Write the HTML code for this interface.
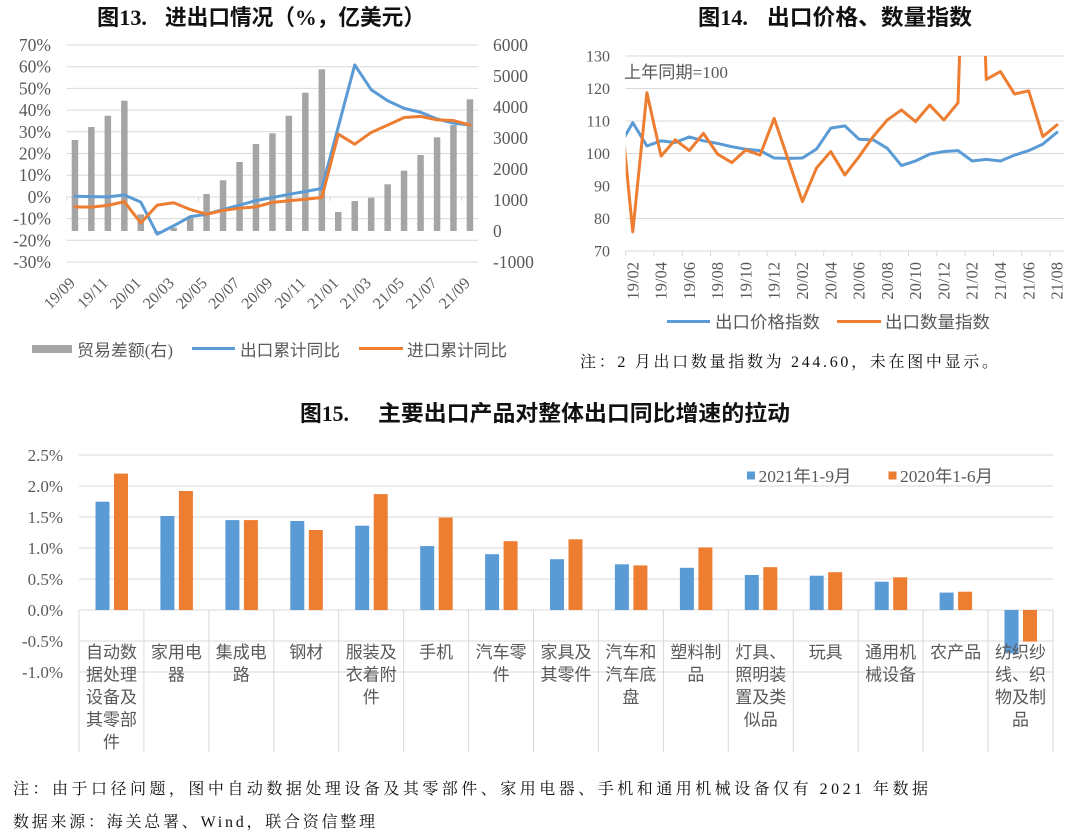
<!DOCTYPE html>
<html><head><meta charset="utf-8"><style>
html,body{margin:0;padding:0;background:#fff;}
svg{display:block;}
</style></head><body>
<svg width="1080" height="838" viewBox="0 0 1080 838" xmlns="http://www.w3.org/2000/svg">
<rect width="1080" height="838" fill="#fff"/>
<defs>
<clipPath id="c14"><rect x="625.7" y="56" width="438.6" height="200"/></clipPath>
</defs>

<!-- ============ Chart 13 ============ -->
<g font-family="'Liberation Serif','Noto Sans CJK SC',sans-serif" font-weight="bold" fill="#111" font-size="22">
<text x="97" y="25" textLength="50" lengthAdjust="spacingAndGlyphs">图13.</text>
<text x="165" y="25" textLength="260" lengthAdjust="spacingAndGlyphs">进出口情况（%，亿美元）</text>
</g>
<g stroke="#d9d9d9" stroke-width="1">
<line x1="66.7" x2="478.3" y1="45" y2="45"/>
<line x1="66.7" x2="478.3" y1="66.7" y2="66.7"/>
<line x1="66.7" x2="478.3" y1="88.4" y2="88.4"/>
<line x1="66.7" x2="478.3" y1="110.1" y2="110.1"/>
<line x1="66.7" x2="478.3" y1="131.8" y2="131.8"/>
<line x1="66.7" x2="478.3" y1="153.5" y2="153.5"/>
<line x1="66.7" x2="478.3" y1="175.2" y2="175.2"/>
<line x1="66.7" x2="478.3" y1="196.9" y2="196.9"/>
<line x1="66.7" x2="478.3" y1="218.6" y2="218.6"/>
<line x1="66.7" x2="478.3" y1="240.3" y2="240.3"/>
<line x1="66.7" x2="478.3" y1="262" y2="262"/>
<line x1="66.7" x2="66.7" y1="197" y2="201"/>
<line x1="198.4" x2="198.4" y1="197" y2="201"/>
<line x1="330.1" x2="330.1" y1="197" y2="201"/>
<line x1="461.8" x2="461.8" y1="197" y2="201"/>
</g>
<g fill="#a5a5a5">
<rect x="71.7" y="140.0" width="6.5" height="91.0"/>
<rect x="88.1" y="127.0" width="6.5" height="104.0"/>
<rect x="104.6" y="115.7" width="6.5" height="115.3"/>
<rect x="121.1" y="100.7" width="6.5" height="130.3"/>
<rect x="137.5" y="214.4" width="6.5" height="16.6"/>
<rect x="154.0" y="231" width="6.5" height="2.2"/>
<rect x="170.4" y="227.7" width="6.5" height="3.3"/>
<rect x="186.9" y="216.7" width="6.5" height="14.3"/>
<rect x="203.3" y="194.0" width="6.5" height="37.0"/>
<rect x="219.8" y="180.3" width="6.5" height="50.7"/>
<rect x="236.3" y="162.0" width="6.5" height="69.0"/>
<rect x="252.7" y="144.0" width="6.5" height="87.0"/>
<rect x="269.2" y="133.3" width="6.5" height="97.7"/>
<rect x="285.6" y="115.7" width="6.5" height="115.3"/>
<rect x="302.1" y="92.7" width="6.5" height="138.3"/>
<rect x="318.6" y="69.3" width="6.5" height="161.7"/>
<rect x="335.0" y="212.0" width="6.5" height="19.0"/>
<rect x="351.5" y="201.0" width="6.5" height="30.0"/>
<rect x="367.9" y="197.7" width="6.5" height="33.3"/>
<rect x="384.4" y="184.3" width="6.5" height="46.7"/>
<rect x="400.8" y="170.7" width="6.5" height="60.3"/>
<rect x="417.3" y="155.0" width="6.5" height="76.0"/>
<rect x="433.8" y="137.3" width="6.5" height="93.7"/>
<rect x="450.2" y="125.0" width="6.5" height="106.0"/>
<rect x="466.7" y="99.3" width="6.5" height="131.7"/>
</g>
<g transform="translate(74.93,196.9) scale(16.46,-2.17)" fill="none" stroke-linejoin="round" stroke-linecap="round">
<polyline vector-effect="non-scaling-stroke" stroke="#5b9bd5" stroke-width="3" points="0,0.3 1,0.1 2,0 3,0.9 4,-2.4 5,-17.2 6,-13.3 7,-9.1 8,-8 9,-5.8 10,-3.8 11,-1.7 12,-0.3 13,1.2 14,2.5 15,3.9 16,32.3 17,60.8 18,49.4 19,44.3 20,40.8 21,39 22,35.9 23,34 24,33.1"/>
<polyline vector-effect="non-scaling-stroke" stroke="#ed7d31" stroke-width="3" points="0,-4.6 1,-4.7 2,-3.9 3,-2.2 4,-12 5,-3.8 6,-2.7 7,-5.8 8,-8 9,-6.2 10,-5.2 11,-4.6 12,-2.5 13,-1.8 14,-1.1 15,-0.3 16,28.9 17,24.3 18,29.7 19,33.1 20,36.6 21,37.1 22,35.5 23,35.2 24,33.1"/>
</g>
<g font-family="'Liberation Serif',serif" font-size="17.5" fill="#595959" text-anchor="end">
<text x="51" y="51">70%</text>
<text x="51" y="72.7">60%</text>
<text x="51" y="94.4">50%</text>
<text x="51" y="116.1">40%</text>
<text x="51" y="137.8">30%</text>
<text x="51" y="159.5">20%</text>
<text x="51" y="181.2">10%</text>
<text x="51" y="202.9">0%</text>
<text x="51" y="224.6">-10%</text>
<text x="51" y="246.3">-20%</text>
<text x="51" y="268">-30%</text>
</g>
<g font-family="'Liberation Serif',serif" font-size="17.5" fill="#595959">
<text x="493" y="51">6000</text>
<text x="493" y="82">5000</text>
<text x="493" y="113">4000</text>
<text x="493" y="144">3000</text>
<text x="493" y="175">2000</text>
<text x="493" y="206">1000</text>
<text x="493" y="237">0</text>
<text x="493" y="268">-1000</text>
</g>
<g font-family="'Liberation Serif',serif" font-size="16" fill="#595959" text-anchor="end">
<text transform="translate(76,284) rotate(-45)">19/09</text>
<text transform="translate(109,284) rotate(-45)">19/11</text>
<text transform="translate(142,284) rotate(-45)">20/01</text>
<text transform="translate(175,284) rotate(-45)">20/03</text>
<text transform="translate(208,284) rotate(-45)">20/05</text>
<text transform="translate(240.5,284) rotate(-45)">20/07</text>
<text transform="translate(273.5,284) rotate(-45)">20/09</text>
<text transform="translate(306.5,284) rotate(-45)">20/11</text>
<text transform="translate(339.5,284) rotate(-45)">21/01</text>
<text transform="translate(372,284) rotate(-45)">21/03</text>
<text transform="translate(405,284) rotate(-45)">21/05</text>
<text transform="translate(438,284) rotate(-45)">21/07</text>
<text transform="translate(471,284) rotate(-45)">21/09</text>
</g>
<rect x="32" y="345" width="40" height="8" fill="#a5a5a5"/>
<line x1="192" x2="235" y1="348.5" y2="348.5" stroke="#5b9bd5" stroke-width="3"/>
<line x1="359" x2="403" y1="348.5" y2="348.5" stroke="#ed7d31" stroke-width="3"/>
<g font-family="'Liberation Serif','Noto Sans CJK SC',sans-serif" font-size="16.5" fill="#595959">
<text x="77" y="356" textLength="96" lengthAdjust="spacingAndGlyphs">贸易差额(右)</text>
<text x="240" y="356" textLength="100" lengthAdjust="spacingAndGlyphs">出口累计同比</text>
<text x="407" y="356" textLength="100" lengthAdjust="spacingAndGlyphs">进口累计同比</text>
</g>

<!-- ============ Chart 14 ============ -->
<g font-family="'Liberation Serif','Noto Sans CJK SC',sans-serif" font-weight="bold" fill="#111" font-size="22">
<text x="698" y="25" textLength="50" lengthAdjust="spacingAndGlyphs">图14.</text>
<text x="767" y="25" textLength="205" lengthAdjust="spacingAndGlyphs">出口价格、数量指数</text>
</g>
<g stroke="#d9d9d9" stroke-width="1">
<line x1="625.7" x2="1064" y1="56" y2="56"/>
<line x1="625.7" x2="1064" y1="88.5" y2="88.5"/>
<line x1="625.7" x2="1064" y1="121" y2="121"/>
<line x1="625.7" x2="1064" y1="153.5" y2="153.5"/>
<line x1="625.7" x2="1064" y1="186" y2="186"/>
<line x1="625.7" x2="1064" y1="218.5" y2="218.5"/>
<line x1="625.7" x2="1064" y1="251" y2="251"/>
<line x1="625.7" x2="625.7" y1="251" y2="256"/>
<line x1="654" x2="654" y1="251" y2="256"/>
<line x1="682.3" x2="682.3" y1="251" y2="256"/>
<line x1="710.5" x2="710.5" y1="251" y2="256"/>
<line x1="738.8" x2="738.8" y1="251" y2="256"/>
<line x1="767.1" x2="767.1" y1="251" y2="256"/>
<line x1="795.4" x2="795.4" y1="251" y2="256"/>
<line x1="823.7" x2="823.7" y1="251" y2="256"/>
<line x1="852" x2="852" y1="251" y2="256"/>
<line x1="880.2" x2="880.2" y1="251" y2="256"/>
<line x1="908.5" x2="908.5" y1="251" y2="256"/>
<line x1="936.8" x2="936.8" y1="251" y2="256"/>
<line x1="965.1" x2="965.1" y1="251" y2="256"/>
<line x1="993.4" x2="993.4" y1="251" y2="256"/>
<line x1="1021.7" x2="1021.7" y1="251" y2="256"/>
<line x1="1049.9" x2="1049.9" y1="251" y2="256"/>
</g>
<g clip-path="url(#c14)">
<g transform="translate(632.77,478.5) scale(14.14,-3.25)" fill="none" stroke-linejoin="round" stroke-linecap="round">
<polyline vector-effect="non-scaling-stroke" stroke="#5b9bd5" stroke-width="3" points="-1,101.9 0,109.5 1,102.3 2,103.9 3,103.4 4,105.1 5,103.9 6,103.1 7,102.1 8,101.3 9,100.9 10,98.6 11,98.5 12,98.6 13,101.4 14,107.8 15,108.5 16,104.4 17,104.2 18,101.6 19,96.3 20,97.7 21,99.8 22,100.6 23,100.9 24,97.7 25,98.2 26,97.7 27,99.5 28,100.9 29,102.9 30,106.5"/>
<polyline vector-effect="non-scaling-stroke" stroke="#ed7d31" stroke-width="3" points="-1,120.1 0,75.9 1,118.7 2,99.2 3,104.2 4,100.9 5,106.2 6,99.8 7,97.2 8,101.1 9,99.5 10,110.8 11,98 12,85.2 13,95.6 14,100.6 15,93.4 16,99 17,105.2 18,110.3 19,113.4 20,109.8 21,114.9 22,110.3 23,115.6 24,244.6 25,122.8 26,125.2 27,118.3 28,119.3 29,105.2 30,108.8"/>
</g>
</g>
<g font-family="'Liberation Serif',serif" font-size="16" fill="#595959" text-anchor="end">
<text x="610" y="61.5">130</text>
<text x="610" y="94">120</text>
<text x="610" y="126.5">110</text>
<text x="610" y="159">100</text>
<text x="610" y="191.5">90</text>
<text x="610" y="224">80</text>
<text x="610" y="256.5">70</text>
</g>
<text x="624" y="78" font-family="'Liberation Serif','Noto Sans CJK SC',sans-serif" font-size="17" fill="#595959" textLength="104" lengthAdjust="spacingAndGlyphs">上年同期=100</text>
<g font-family="'Liberation Serif',serif" font-size="16.5" fill="#595959" text-anchor="end">
<text transform="translate(638.3,262) rotate(-90)">19/02</text>
<text transform="translate(666.5,262) rotate(-90)">19/04</text>
<text transform="translate(694.8,262) rotate(-90)">19/06</text>
<text transform="translate(723.1,262) rotate(-90)">19/08</text>
<text transform="translate(751.4,262) rotate(-90)">19/10</text>
<text transform="translate(779.7,262) rotate(-90)">19/12</text>
<text transform="translate(808,262) rotate(-90)">20/02</text>
<text transform="translate(836.3,262) rotate(-90)">20/04</text>
<text transform="translate(864.5,262) rotate(-90)">20/06</text>
<text transform="translate(892.8,262) rotate(-90)">20/08</text>
<text transform="translate(921.1,262) rotate(-90)">20/10</text>
<text transform="translate(949.4,262) rotate(-90)">20/12</text>
<text transform="translate(977.7,262) rotate(-90)">21/02</text>
<text transform="translate(1006,262) rotate(-90)">21/04</text>
<text transform="translate(1034.3,262) rotate(-90)">21/06</text>
<text transform="translate(1062.5,262) rotate(-90)">21/08</text>
</g>
<line x1="667" x2="710" y1="321.5" y2="321.5" stroke="#5b9bd5" stroke-width="3"/>
<line x1="837" x2="881" y1="321.5" y2="321.5" stroke="#ed7d31" stroke-width="3"/>
<g font-family="'Liberation Sans','Noto Sans CJK SC',sans-serif" font-size="17" fill="#595959">
<text x="715" y="328" textLength="105" lengthAdjust="spacingAndGlyphs">出口价格指数</text>
<text x="885" y="328" textLength="105" lengthAdjust="spacingAndGlyphs">出口数量指数</text>
</g>
<text x="580" y="367" font-family="'Liberation Serif','Noto Serif CJK SC',serif" font-size="16" fill="#111" textLength="418" lengthAdjust="spacing">注：2 月出口数量指数为 244.60，未在图中显示。</text>

<!-- ============ Chart 15 ============ -->
<g font-family="'Liberation Serif','Noto Sans CJK SC',sans-serif" font-weight="bold" fill="#111" font-size="22">
<text x="300" y="421" textLength="49" lengthAdjust="spacingAndGlyphs">图15.</text>
<text x="378" y="421" textLength="412" lengthAdjust="spacingAndGlyphs">主要出口产品对整体出口同比增速的拉动</text>
</g>
<g stroke="#d9d9d9" stroke-width="1">
<line x1="79" x2="1053" y1="455" y2="455"/>
<line x1="79" x2="1053" y1="486" y2="486"/>
<line x1="79" x2="1053" y1="517" y2="517"/>
<line x1="79" x2="1053" y1="548" y2="548"/>
<line x1="79" x2="1053" y1="579" y2="579"/>
<line x1="79" x2="1053" y1="610" y2="610"/>
<line x1="79" x2="1053" y1="641" y2="641"/>
<line x1="79" x2="1053" y1="672" y2="672"/>
<line x1="79" x2="79" y1="610" y2="752"/>
<line x1="143.9" x2="143.9" y1="610" y2="752"/>
<line x1="208.9" x2="208.9" y1="610" y2="752"/>
<line x1="273.8" x2="273.8" y1="610" y2="752"/>
<line x1="338.7" x2="338.7" y1="610" y2="752"/>
<line x1="403.7" x2="403.7" y1="610" y2="752"/>
<line x1="468.6" x2="468.6" y1="610" y2="752"/>
<line x1="533.5" x2="533.5" y1="610" y2="752"/>
<line x1="598.4" x2="598.4" y1="610" y2="752"/>
<line x1="663.4" x2="663.4" y1="610" y2="752"/>
<line x1="728.3" x2="728.3" y1="610" y2="752"/>
<line x1="793.2" x2="793.2" y1="610" y2="752"/>
<line x1="858.2" x2="858.2" y1="610" y2="752"/>
<line x1="923.1" x2="923.1" y1="610" y2="752"/>
<line x1="988" x2="988" y1="610" y2="752"/>
<line x1="1053" x2="1053" y1="610" y2="752"/>
</g>
<g fill="#5b9bd5">
<rect x="95.5" y="501.7" width="14" height="108.3"/>
<rect x="160.4" y="516.0" width="14" height="94.0"/>
<rect x="225.4" y="520.1" width="14" height="89.9"/>
<rect x="290.3" y="521.0" width="14" height="89.0"/>
<rect x="355.2" y="525.7" width="14" height="84.3"/>
<rect x="420.2" y="546.1" width="14" height="63.9"/>
<rect x="485.1" y="554.2" width="14" height="55.8"/>
<rect x="550" y="559.2" width="14" height="50.8"/>
<rect x="614.9" y="564.3" width="14" height="45.7"/>
<rect x="679.9" y="567.8" width="14" height="42.2"/>
<rect x="744.8" y="575.0" width="14" height="35.0"/>
<rect x="809.7" y="575.7" width="14" height="34.3"/>
<rect x="874.7" y="581.7" width="14" height="28.3"/>
<rect x="939.6" y="592.6" width="14" height="17.4"/>
<rect x="1004.5" y="610" width="14" height="43.4"/>
</g>
<g fill="#ed7d31">
<rect x="114" y="473.6" width="14" height="136.4"/>
<rect x="178.9" y="491.0" width="14" height="119.0"/>
<rect x="243.9" y="520.1" width="14" height="89.9"/>
<rect x="308.8" y="530.0" width="14" height="80.0"/>
<rect x="373.7" y="494.1" width="14" height="115.9"/>
<rect x="438.7" y="517.6" width="14" height="92.4"/>
<rect x="503.6" y="541.2" width="14" height="68.8"/>
<rect x="568.5" y="539.3" width="14" height="70.7"/>
<rect x="633.4" y="565.4" width="14" height="44.6"/>
<rect x="698.4" y="547.4" width="14" height="62.6"/>
<rect x="763.3" y="567.2" width="14" height="42.8"/>
<rect x="828.2" y="572.2" width="14" height="37.8"/>
<rect x="893.2" y="577.3" width="14" height="32.7"/>
<rect x="958.1" y="591.7" width="14" height="18.3"/>
<rect x="1023" y="610" width="14" height="31.6"/>
</g>
<g font-family="'Liberation Serif',serif" font-size="17" fill="#595959" text-anchor="end">
<text x="63" y="461">2.5%</text>
<text x="63" y="492">2.0%</text>
<text x="63" y="523">1.5%</text>
<text x="63" y="554">1.0%</text>
<text x="63" y="585">0.5%</text>
<text x="63" y="616">0.0%</text>
<text x="63" y="647">-0.5%</text>
<text x="63" y="678">-1.0%</text>
</g>
<rect x="747" y="471.5" width="8" height="8" fill="#5b9bd5"/>
<rect x="888.5" y="471.5" width="8" height="8" fill="#ed7d31"/>
<g font-family="'Liberation Serif','Noto Sans CJK SC',sans-serif" font-size="17" fill="#595959">
<text x="758.5" y="482" textLength="93" lengthAdjust="spacingAndGlyphs">2021年1-9月</text>
<text x="900" y="482" textLength="93" lengthAdjust="spacingAndGlyphs">2020年1-6月</text>
</g>
<g font-family="'Liberation Sans','Noto Sans CJK SC',sans-serif" font-size="17" fill="#595959" text-anchor="middle">
<text x="111.5" y="658">自动数</text><text x="111.5" y="680.5">据处理</text><text x="111.5" y="703">设备及</text><text x="111.5" y="725.5">其零部</text><text x="111.5" y="748">件</text>
<text x="176.4" y="658">家用电</text><text x="176.4" y="680.5">器</text>
<text x="241.3" y="658">集成电</text><text x="241.3" y="680.5">路</text>
<text x="306.3" y="658">钢材</text>
<text x="371.2" y="658">服装及</text><text x="371.2" y="680.5">衣着附</text><text x="371.2" y="703">件</text>
<text x="436.1" y="658">手机</text>
<text x="501.1" y="658">汽车零</text><text x="501.1" y="680.5">件</text>
<text x="566" y="658">家具及</text><text x="566" y="680.5">其零件</text>
<text x="630.9" y="658">汽车和</text><text x="630.9" y="680.5">汽车底</text><text x="630.9" y="703">盘</text>
<text x="695.9" y="658">塑料制</text><text x="695.9" y="680.5">品</text>
<text x="760.8" y="658">灯具、</text><text x="760.8" y="680.5">照明装</text><text x="760.8" y="703">置及类</text><text x="760.8" y="725.5">似品</text>
<text x="825.7" y="658">玩具</text>
<text x="890.6" y="658">通用机</text><text x="890.6" y="680.5">械设备</text>
<text x="955.6" y="658">农产品</text>
<text x="1020.5" y="658">纺织纱</text><text x="1020.5" y="680.5">线、织</text><text x="1020.5" y="703">物及制</text><text x="1020.5" y="725.5">品</text>
</g>

<!-- ============ Notes ============ -->
<g font-family="'Liberation Serif','Noto Serif CJK SC',serif" font-size="16" fill="#111">
<text x="13" y="794" textLength="915" lengthAdjust="spacing">注：由于口径问题，图中自动数据处理设备及其零部件、家用电器、手机和通用机械设备仅有 2021 年数据</text>
<text x="13" y="827" textLength="362" lengthAdjust="spacing">数据来源：海关总署、Wind，联合资信整理</text>
</g>
</svg>
</body></html>
